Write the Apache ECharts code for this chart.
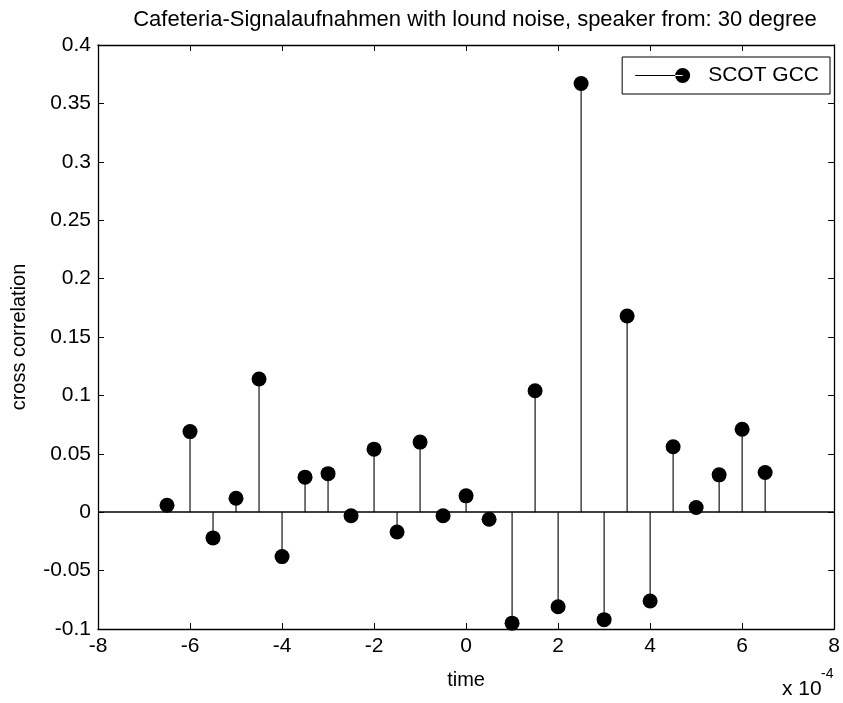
<!DOCTYPE html>
<html>
<head>
<meta charset="utf-8">
<script src="https://cdn.jsdelivr.net/npm/echarts@6/dist/echarts.min.js"></script>
<style>
html,body{margin:0;padding:0;background:#fff;}
#main{width:843px;height:703px;}
</style>
</head>
<body>
<div id="main"></div>
<script>
// time lags (units of 1e-4 s)
var times = [-6.5,-6,-5.5,-5,-4.5,-4,-3.5,-3,-2.5,-2,-1.5,-1,-0.5,0,0.5,1,1.5,2,2.5,3,3.5,4,4.5,5,5.5,6,6.5];
// SCOT GCC cross correlation values
var scotGcc = [0.006,0.069,-0.022,0.012,0.114,-0.038,0.030,0.033,-0.003,0.054,-0.017,0.060,-0.003,0.014,-0.006,-0.095,0.104,-0.081,0.367,-0.092,0.168,-0.076,0.056,0.004,0.032,0.071,0.034];
var xTicks = [-8,-6,-4,-2,0,2,4,6,8];
var yTicks = [-0.1,-0.05,0,0.05,0.1,0.15,0.2,0.25,0.3,0.35,0.4];

var FONT = '"Liberation Sans",Arial,Helvetica,sans-serif';
var pts = times.map(function(t,i){return [t, scotGcc[i]];});

var chart = echarts.init(document.getElementById('main'), null, {renderer:'canvas'});
var axisLineStyle = {color:'#000', width:1.3};
var tickStyle = {show:true, inside:true, length:6, lineStyle:{color:'#000', width:1}};
var option = {
  animation:false,
  backgroundColor:'#fff',
  title:{
    text:'Cafeteria-Signalaufnahmen with lound noise, speaker from: 30 degree',
    left:470, top:4, textAlign:'center',
    textStyle:{fontFamily:FONT, fontSize:22, fontWeight:'normal', color:'#000'}
  },
  grid:{left:98, right:6, top:45, bottom:74, containLabel:false},
  legend:{
    data:[{name:'SCOT GCC', icon:'path://M0,7 L47.5,7 L47.5,8 L0,8 Z M40,7.5 A7.5,7.5 0 1 0 55,7.5 A7.5,7.5 0 1 0 40,7.5 Z'}],
    right:13, top:57,
    orient:'vertical',
    itemWidth:55, itemHeight:15, itemGap:0,
    padding:[8,11,8,13],
    borderColor:'#000', borderWidth:1, backgroundColor:'#fff',
    textStyle:{fontFamily:FONT, fontSize:21, color:'#000', padding:[0,0,0,13]}
  },
  xAxis:[{
    type:'value', min:-8, max:8, interval:2, position:'bottom',
    name:'time', nameLocation:'middle', nameGap:41,
    nameTextStyle:{fontFamily:FONT, fontSize:20, color:'#000'},
    axisLine:{show:true, onZero:false, lineStyle:axisLineStyle},
    axisTick:tickStyle,
    axisLabel:{fontFamily:FONT, fontSize:21, color:'#000', margin:7,
      formatter:function(v){return String(v);}},
    splitLine:{show:false}
  },{
    type:'value', min:-8, max:8, interval:2, position:'top',
    axisLine:{show:true, onZero:false, lineStyle:axisLineStyle},
    axisTick:tickStyle,
    axisLabel:{show:false}, splitLine:{show:false}
  }],
  yAxis:[{
    type:'value', min:-0.1, max:0.4, interval:0.05, position:'left',
    name:'cross correlation', nameLocation:'middle', nameGap:69, nameRotate:90,
    nameTextStyle:{fontFamily:FONT, fontSize:20, color:'#000'},
    axisLine:{show:true, onZero:false, lineStyle:axisLineStyle},
    axisTick:tickStyle,
    axisLabel:{fontFamily:FONT, fontSize:21, color:'#000', margin:7,
      formatter:function(v){return String(+v.toFixed(2));}},
    splitLine:{show:false}
  },{
    type:'value', min:-0.1, max:0.4, interval:0.05, position:'right',
    axisLine:{show:true, onZero:false, lineStyle:axisLineStyle},
    axisTick:tickStyle,
    axisLabel:{show:false}, splitLine:{show:false}
  }],
  graphic:[
    {type:'text', left:782, top:679, style:{text:'x 10', fontFamily:FONT, fontSize:21, fill:'#000'}},
    {type:'text', left:821, top:667, style:{text:'-4', fontFamily:FONT, fontSize:14, fill:'#000'}}
  ],
  series:[{
    type:'custom', name:'stems', data:pts, silent:true, z:2,
    renderItem:function(params, api){
      var p0 = api.coord([api.value(0), 0]);
      var p1 = api.coord([api.value(0), api.value(1)]);
      return {type:'line', shape:{x1:p0[0], y1:p0[1], x2:p1[0], y2:p1[1]},
        style:{stroke:'#000', lineWidth:1.1}};
    },
    markLine:{silent:true, symbol:'none', label:{show:false},
      lineStyle:{color:'#000', width:1.7, type:'solid'},
      data:[{yAxis:0}]}
  },{
    type:'scatter', name:'SCOT GCC', data:pts, symbol:'circle', symbolSize:15, z:3,
    itemStyle:{color:'#000', opacity:1}
  }]
};
chart.setOption(option);
</script>
</body>
</html>
